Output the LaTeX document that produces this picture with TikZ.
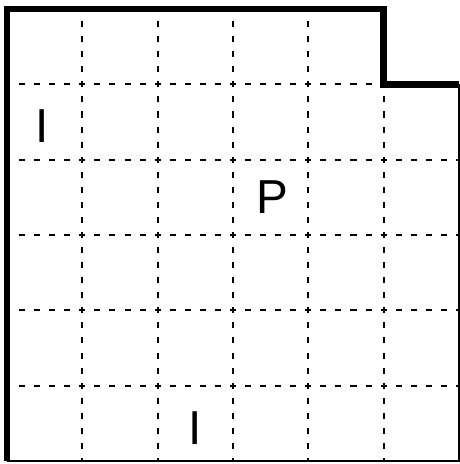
\documentclass[tikz,border=0pt]{standalone}
\usepackage{fontspec}
\setmainfont{Liberation Sans}
\usetikzlibrary{positioning}
\tikzset{grd/.style={line width=0.85pt,dash pattern=on 0.08cm off 0.12cm,dash phase=0.04cm},
 wall/.style={line width=2.4pt,line join=miter},thin/.style={line width=0.9pt},
 lt/.style={font=\fontsize{18}{21}\selectfont,inner sep=0pt}}
\begin{document}
\begin{tikzpicture}
\useasboundingbox (-0.093,-0.04) rectangle (6.013,6.12);
% dashed grid
\foreach\i in {1,...,4}{\draw[grd](\i,0)--(\i,6);\draw[grd](0,\i)--(6,\i);}
\draw[grd](5,0)--(5,5);\draw[grd](0,5)--(5,5);
% outline
\draw[thin](6,5)--(6,0)--(0,0);
\draw[wall](0,0)--(0,6)--(5,6)--(5,5)--(6,5);
\node[lt](i1) at (0.47,4.45){I};\node[lt](p) at (3.52,3.5){P};\node[lt](i2) at (2.5,0.43){I};
\end{tikzpicture}
\end{document}
